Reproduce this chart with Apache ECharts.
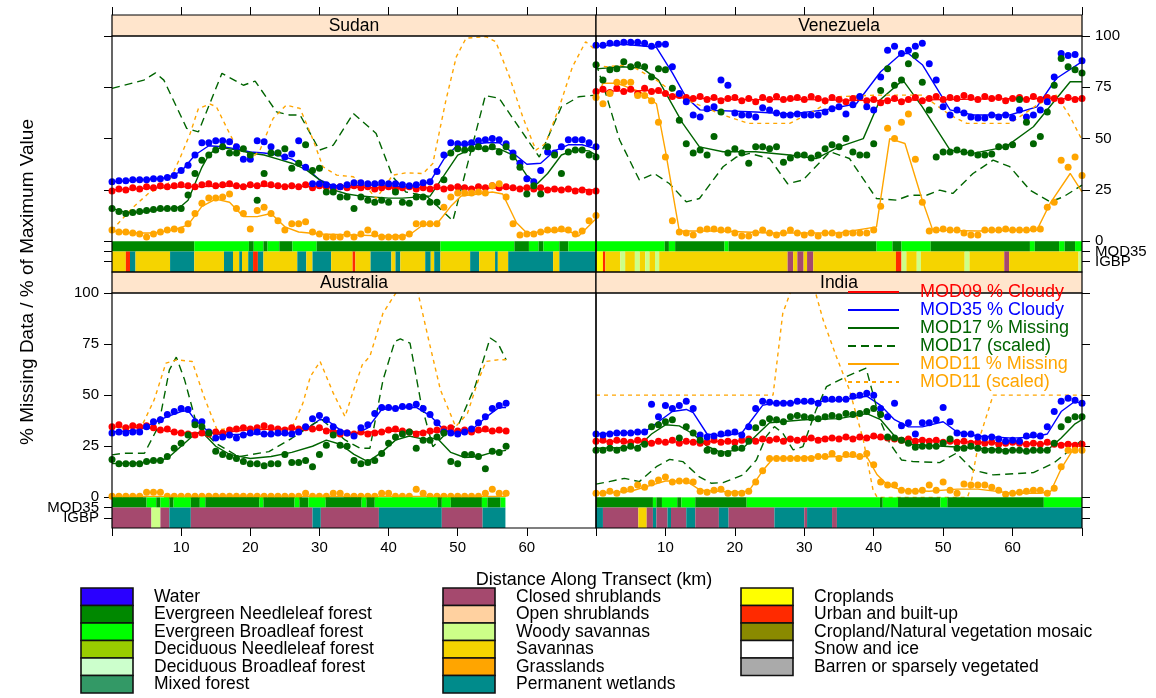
<!DOCTYPE html>
<html>
<head>
<meta charset="utf-8">
<script src="https://cdn.jsdelivr.net/npm/echarts@6/dist/echarts.min.js"></script>
<style>
  html, body { margin: 0; padding: 0; background: #fff; }
  #chart { width: 1156px; height: 698px; }
</style>
</head>
<body>
<div id="chart"></div>
<script>
// Панели и легенды
const panelNames = ['Sudan', 'Venezuela', 'Australia', 'India'];
const lineNames = ['MOD09 % Cloudy', 'MOD35 % Cloudy', 'MOD17 % Missing', 'MOD17 (scaled)', 'MOD11 % Missing', 'MOD11 (scaled)'];
const lineColors = ['#ff0000', '#0000ff', '#006400', '#006400', '#ffa500', '#ffa500'];
const yNumTicks = [0, 25, 50, 75, 100];
const yBandTicks = [[-5, 'MOD35'], [-10, 'IGBP']];
const xTickValues = [0, 10, 20, 30, 40, 50, 60, 70];
const xLabelValues = [10, 20, 30, 40, 50, 60];

const igbpNames = ['Water', 'Evergreen Needleleaf forest', 'Evergreen Broadleaf forest', 'Deciduous Needleleaf forest',
  'Deciduous Broadleaf forest', 'Mixed forest', 'Closed shrublands', 'Open shrublands', 'Woody savannas', 'Savannas',
  'Grasslands', 'Permanent wetlands', 'Croplands', 'Urban and built-up', 'Cropland/Natural vegetation mosaic',
  'Snow and ice', 'Barren or sparsely vegetated'];
const igbpColors = ['#2a00ff', '#008800', '#00ff00', '#99cc00', '#ccffcc', '#339966', '#a5496e', '#ffd1a0', '#ccff88',
  '#f5d400', '#ffa500', '#008b8b', '#ffff00', '#ff2a00', '#8a8a00', '#ffffff', '#aaaaaa'];

// Точки по километрам (0,1,2,...)
const sudanRed = [24.5,25.5,25,26,25.5,26.5,26,27,26.5,27,27.5,27,26.5,27.5,28,27,27.5,28,27,26.5,27.5,27,28,27.5,27,26.5,27,26.5,27.5,26,27,26.5,25.5,26.5,26,27,26,26.5,25.5,26,26.5,25.5,26,26.5,25.5,26,25.5,26.5,25.5,26,26.5,26,25.5,26.5,26,27,26,26.5,26,25.5,26,25.5,26,25,25.5,25,25.5,24.5,25,24,24.5];
const sudanBlue = [29,29.5,29.5,30,30,30,30.5,30.5,31,32,34.5,37,42,48,48,49,49,48.5,46,40,40,49,48.5,46,43,41,42.5,49,36,28,28,27.5,26.5,26.5,27.5,28.5,28.5,28,28,28.5,28,28,27.5,27,27.5,28.5,29,34,42,48,47.5,47.5,48,49,49.5,50,49.5,47.5,43,38,30.5,29,34.5,43.5,43,46,49.5,49.5,49.5,48,46];
const sudanGreen = [16,14.5,13.5,14,14.5,15,15.5,16,16,16,16,22.5,33,39.5,42,44.5,46,43,43,45,42,20,33,43,43,45,35.5,38,47,34.5,35.5,24,24,21.5,21.5,16,21.5,20,19,20,19,24,19,18.5,21.5,21.5,19,19,30,43,45,44.5,45,46,45,46,43.5,46,41,36,23,27,23,46,42,33,43.5,44.5,44.5,42,41];
const sudanOrange = [5.5,4.5,4.5,4,3.5,2,3.5,4.5,5.5,6,5.5,8.5,13.5,18.5,21,21,21.5,23,16,13.5,6,15,16.5,13.5,10,5.5,8.5,8.5,9.5,4.5,3.5,2,2,2,3.5,2,3.5,5.5,3.5,2,2,2,2,3.5,8.5,8.5,8.5,8.5,16.5,21.5,23.5,23.5,23.5,24,23.5,27,28,21.5,8.5,3,3.5,3.5,4.5,5.5,5.5,6,5.5,3.5,5,10,12.5];

const venRed = [73,74,72.5,74.5,73,74,72,74.5,73,73.5,72,70.5,71,70,69.5,70.5,69,70,68.5,69.5,70,68.5,69.5,68,70,69,70.5,69,69.5,70,69,70.5,69.5,68.5,70,69,68,69.5,70,68.5,69,67.5,68.5,69.5,68,69,70,68.5,69.5,70.5,69,70,69.5,71,70,69,70.5,69.5,70,68.5,69.5,70,69,70.5,69,70,69.5,68.5,70,69,69.5];
const venBlue = [95.5,95.5,96.5,96.5,97,97,97,96.5,95,96,96,85,72,68,61.5,60.5,64.5,65.5,78.5,76,62.5,61.5,61.5,60.5,65,64,62.5,61.5,61.5,62,61.5,61.5,61.5,63,64.5,65.5,62,66.5,70.5,65.5,64,80,93,95,91.5,93,95,96.5,86.5,78.5,65.5,61.5,64,62.5,60.5,60,60,61.5,60.5,61.5,60,64,60.5,61.5,64,68,80,91.5,90.5,91,88];
const venGreen = [86,78.5,83.5,84,87.5,85,86,85,80,84,83.5,74.5,59,47.5,43,44.5,42,51,63,43,45,43,38,46,46,45,46,38.5,40.5,42,42,40.5,42,45,47,46,50,43.5,42,42,47.5,73.5,84,76,78.5,86.5,90.5,77.5,64,41,43.5,43.5,44.5,43.5,43,42,42,42.5,46,46,47,69,58,47.5,51,63,76,89,85,83.5,82];
const venOrange = [70,67,72,77.5,77.5,77.5,71,71,68.5,58,41,10,4.5,4,3,5.5,6,6,5.5,5.5,4,2.5,2.5,4,5.5,4,3,4,5.5,4,3,4,2.5,4,4,3,4,4,4,4,5.5,17,55,50,58,62,40,19,5,5.5,6,5.5,5.5,4,3,3,5.5,5.5,5.5,6,5.5,5.5,5.5,6,6,16.5,19,39.5,36,41,32];

const ausRed = [34.5,35.5,34,35,34.5,35,34,33,33.5,32,31.5,31,30.5,31.5,31,32,31.5,33,33.5,34,33.5,34,35,34,33.5,33,34,33.5,34,33.5,34,32.5,32,31,31.5,31,32,31,31.5,32,33,33.5,32.5,32,31,31.5,32.5,33,33.5,34,32.5,33,32,33,33.5,32.5,33,32.5];
const ausBlue = [31.5,32,31.5,32,32,34.5,37,38,40.5,42,43.5,43,37,37,32,29,29.5,30.5,29,30.5,31.5,32,31,31,31.5,31.5,31,32,34.5,38.5,40,38,34.5,32,31.5,30,34,35.5,41,44,44,43.5,44.5,44.5,45.5,43.5,40.5,36.5,32,31.5,31,32,33.5,36.5,39.5,43.5,45,46];
const ausGreen = [18.5,16.5,16.5,16.5,16.5,17.5,18,18,20,24,26.5,30.5,35.5,34.5,31.5,22.5,21,20,19,17.5,16.5,16.5,15.5,16.5,16.5,21,17,17,18,15,21,25.5,30.5,25.5,25,18,16.5,17,18,21.5,26.5,29.5,31,32,24,28,28,29.5,31.5,17.5,16.5,21,21,20,14,22.5,22,25];
const ausOrange = [0.5,0.5,0.5,0.5,0.5,2.5,2.5,2.5,0.5,0.5,0.5,0.5,0.5,0.5,0.5,0.5,0.5,0.5,0.5,0.5,0.5,0.5,0.5,0.5,0.5,0.5,0.5,0.5,2,0.5,0.5,0.5,2,2,0.5,0.5,0.5,0.5,0.5,2,2,0.5,0.5,0.5,4,2,0.5,0.5,0.5,0.5,0.5,0.5,0.5,0.5,2,4,2,2];

const indRed = [27.5,28,27,28,27.5,27,28,27.5,26.5,27.5,27,28,26.5,27.5,27,26.5,27,28,27,27.5,27,28,28.5,27.5,28.5,28,28.5,27.5,28.5,28,28.5,29,28,28.5,29,28.5,29.5,28.5,29.5,29,30,29.5,29,28.5,28,28.5,27.5,28,27.5,28,27,27.5,27,27.5,26.5,27,26.5,27,26,26.5,27,26.5,26,26.5,26,27,26,25.5,26,25.5,26];
const indBlue = [31,30.5,31,31.5,31.5,31.5,32,32,45.5,39.5,45,43.5,45,47,43.5,30.5,29.5,30,31,31.5,32,30.5,34.5,43.5,47,46.5,46,46,46,47,47,47,46,48,48,48,48,49.5,50,51,50,43.5,39.5,46,35,36.5,31,36.5,36.5,38,44,37,31.5,31,31,29.5,29,29.5,28.5,27.5,28,27.5,30,30.5,30,34.5,42,47,48.5,47.5,46];
const indGreen = [23,23,24,23,24,25,24,26,34.5,35.5,37,38,29,34.5,31.5,28,23,22.5,21.5,21.5,24,24,27.5,34,36.5,38.5,38,37,39.5,40,39.5,39,38.5,39.5,40,39.5,41,40.5,41,42,43.5,40.5,29.5,29,28,26.5,24.5,25,25,25,26.5,28.5,24,24,25,24,23,23,23,22.5,23,23,22.5,23,23,23,26.5,34.5,38,39.5,39.5];
const indOrange = [2,2,3,2,3.5,4,6,5,7,8.5,10,7.5,8,8,7.5,3,2.5,3.5,4,2,2,2,3,7.5,13,19,19,19,19,19,19,19,20,20,21.5,19,21,21,20,21.5,16,7.5,6,6,3.5,3,3,3.5,6,3.5,7.5,3.5,2,6.5,6,6,6,5,3.5,1.5,2,2.5,3,3.5,3.5,2,4.5,15,23,23,23];

// Сглаженные линии [км, значение]
const sudanRedLine = [[0,25],[10,26.5],[20,27],[30,26.5],[40,26],[50,26],[60,25.8],[70,25]];
const sudanBlueLine = [[0,29],[5,30],[8,31],[10,34],[12,42],[14,46.5],[16,46],[18,45],[20,43.5],[22,43],[24,42],[26,40],[28,36],[30,30],[32,27],[34,27],[36,27],[38,27.5],[40,27],[42,26.5],[44,27],[46,29],[48,40],[50,47],[52,47],[54,48],[56,48],[58,43],[60,37.5],[62,38],[64,44],[66,47],[68,47],[70,45]];
const sudanGreenLine = [[0,16],[2,14],[4,14],[6,15],[9,16],[10,17],[11,20],[12,28],[13,36],[14,42],[15,45],[16,45.5],[18,44.5],[20,43],[22,42],[24,40],[26,38],[28,35],[30,30],[32,25],[34,23],[36,22],[38,21.5],[40,21],[42,21],[44,21.5],[46,22],[48,32],[50,42],[52,45],[54,45],[56,45],[58,42],[60,32],[61.5,28],[63,33],[65,42],[67,44.5],[69,44],[70,42]];
const sudanGreenDash = [[0,74.5],[4.6,78.5],[6.3,82],[7.5,78.5],[10.8,55],[12.5,53.3],[15.9,81.8],[19,76],[20.7,78],[23.8,63],[25.7,61.5],[27.2,61.5],[30,44.4],[32,46.8],[34.9,62.3],[38.2,52.5],[40.6,31.4],[42.5,24],[45.5,22],[49.3,10],[54,71],[56,69.6],[61.8,41],[65,65.5],[67.5,70.4],[70,71.2]];
const sudanOrangeLine = [[0,5],[3,4],[6,4],[9,5.5],[11,8],[13,17],[15,20.5],[17,19],[19,12],[21,12],[23,13.5],[25,7],[27,4.5],[30,3.5],[35,3],[40,2.5],[43,3],[45,8],[47,8.5],[49,17],[50.5,22],[53,23],[55,24],[56.5,23],[58.5,9],[60,4],[62,4.5],[64,5],[66,5],[67.5,2.5],[70,11]];
const sudanOrangeDash = [[0,5.4],[3.1,16.7],[5.5,24],[7.9,26.5],[9.9,41],[11.3,52.5],[12.5,64.7],[14.2,66.8],[15.1,65.5],[17,52.5],[18.5,42.8],[19.7,38.7],[21.4,44.4],[23.3,59.8],[25.2,66.3],[27.2,64.7],[29.1,49.3],[30.5,36.3],[32.5,32.2],[34.9,31.4],[36.8,26.5],[38.2,20.8],[40.6,32.2],[42.5,33.3],[45,33],[46.4,37.9],[48.3,68.8],[49.8,89.9],[51.2,98.9],[54.1,99.7],[55.5,97.2],[57.5,80],[59.4,60.6],[61.3,44.4],[62.7,47.6],[64.7,65.5],[66.6,85],[68.5,97.2],[70,93]];

const venRedLine = [[0,73],[8,73.5],[12,70],[20,69],[30,69],[40,68.5],[50,69],[60,69.5],[70,69.5]];
const venBlueLine = [[0,95],[4,96],[8.7,94.5],[11,82],[13,70],[15,64],[23,63],[28,62],[33,64],[37.5,67],[41,82.6],[44,91.5],[45,91.5],[47,86],[51,64],[54.3,61.5],[59.6,61.5],[63.5,65.5],[66.3,79.3],[70,87.5]];
const venGreenLine = [[0,84],[3.8,85],[6.7,84.2],[9,78.5],[12.5,57.4],[14.9,46],[18.3,43.6],[23,43.6],[27.9,42],[31.7,40.3],[35,46],[38.5,50],[40.9,68.8],[44.2,78.5],[47,65.5],[51,44.4],[54.3,42.8],[59,46],[63,55.8],[68.3,77.7],[70,77.7]];
const venGreenDash = [[0,86.7],[1.4,72],[3.4,49.3],[6.25,29.8],[8.4,33],[10.6,28],[13,19.2],[14.9,20.8],[18.3,36.3],[20.2,41],[22.1,42.8],[25,40.3],[27.6,28],[29.8,29.8],[33.7,43.6],[36.5,40.3],[40.4,20.8],[43.3,20],[45.2,22.4],[47.6,22.4],[49.5,24.9],[51.4,23.3],[54.3,33],[57.2,39.5],[59.6,36.3],[62.5,24.9],[65.4,19.2],[67.3,21.6],[70,27.3]];
const venOrangeLine = [[0,69],[1,77],[2.9,77],[6.25,73],[8.7,67],[10,44],[12,5],[18,5],[25,4],[30,4],[35,4],[40.4,7],[42.3,50],[44.5,47.6],[47,20],[48.5,5.4],[55,5],[63.5,5.4],[65.4,18.4],[68.3,33],[70,24]];
const venOrangeDash = [[0,86],[1.4,85],[4.8,86],[8.7,78.5],[12,70.4],[18.3,61.5],[22,57.4],[27.9,57.4],[31.7,64],[34.6,70.4],[40.4,71.2],[47,71.2],[51,61.5],[53.4,57.4],[59.6,57.4],[63.5,66.3],[66.3,71.2],[68.3,60.6],[70,49.3]];

const ausRedLine = [[0,34.5],[5,34],[10,31.5],[15,31.5],[20,33],[25,33.5],[30,33.5],[35,31.5],[40,32.5],[45,32],[50,32.5],[57,32.5]];
const ausBlueLine = [[0,32],[4,33],[6,36.5],[8,39.5],[10,42],[11,42.5],[12,38],[14,32],[16,30.5],[20,31],[25,31],[28,33],[30,38],[31,38],[33,33],[35,30.5],[37,34],[39,43],[42,44],[44,44],[46,40],[48,33],[50,31],[52,33],[54,39],[56,44],[57,44]];
const ausGreenLine = [[0,16.5],[5,17],[8,19],[10,25],[12,31],[13,32],[15,25],[17,21],[20,19],[23,20],[26,22],[29,25],[31,28],[33,26],[35,21],[37,17.5],[39,22],[41,28],[43,30],[45,28.5],[47,29],[49,22],[51,19.5],[53,20],[55,22],[57,23]];
const ausGreenDash = [[0,20.8],[1.7,21.6],[4.7,21.6],[6.7,34.6],[8.3,62.4],[9.3,68.6],[10.5,57.5],[12.2,36.3],[15,26.5],[18.3,19.9],[22.7,22.4],[26,28.9],[29.3,36.3],[30.4,37.9],[33.7,28.1],[35.9,24],[37.3,24],[39.2,57.5],[40.9,76.3],[41.7,77.5],[43.1,75.5],[44.7,46],[46.4,24.8],[48.6,32.2],[50.2,36.3],[52.5,54.2],[54.7,78],[55.8,75.5],[57,67.3]];
const ausOrangeLine = [[0,0.5],[10,0.5],[20,0.5],[30,0.5],[40,0.5],[50,0.5],[57,0.5]];
const ausOrangeDash = [[0,34.6],[2.3,33.8],[4.5,36.3],[6.1,47.7],[7.8,65.7],[9.4,67.3],[11.6,66.5],[13.3,49.3],[15.2,33],[17.2,33.8],[22.7,33.8],[26,33.8],[27.6,46],[28.7,59.2],[30.1,66.5],[32,51],[33.7,39.5],[34.8,51],[36.2,64.9],[37.3,69],[39.2,90.2],[40.9,99.2],[42.5,108],[44.2,101],[45.8,77],[47.5,52.6],[49.7,34.6],[51.4,41],[53,57.5],[54.1,66.5],[55.8,67.3],[57,67.3]];

const indRedLine = [[0,27.5],[10,27],[20,27.5],[30,28.5],[40,29.5],[50,27.5],[60,26.5],[70,26]];
const indBlueLine = [[0,31],[7,32],[9,37],[11,42],[13,43],[14,41.5],[16,31],[18,30],[21,31.5],[24,45],[26,46.5],[30,46.5],[35,47.5],[39,49.5],[41,45],[43,38],[45,34.5],[47,34.5],[50,37],[52,32],[55,30],[60,29],[63,29.5],[65,31],[67,42],[69,47],[70,46]];
const indGreenLine = [[0,24],[6,24.5],[8,31],[10,35.5],[12,35],[14,31],[16,25],[18,22],[21,23.5],[23,30],[25,36.5],[30,38],[35,38.5],[39,41],[41,38],[43,30],[45,26],[50,25],[55,24],[60,23],[65,23],[67,29],[69,36],[70,38]];
const indGreenDash = [[0,6.5],[1.9,7.7],[4.1,9.3],[6.25,7.7],[8.7,15],[10.6,18.6],[12.5,17.5],[14.9,10],[16.6,6.9],[18.3,7.2],[21.2,11],[23.1,18.3],[24.5,29.7],[25.7,34.6],[26.9,31.4],[28.4,23.2],[29.8,24.8],[31.7,42.8],[33.2,54.2],[36.1,59.2],[38.9,63.2],[40.9,37.9],[42.3,26.5],[44,18.3],[45.7,17.5],[49.5,17],[51.9,21.6],[54.3,13.4],[57.2,11],[63,12.1],[65.9,16.7],[68.3,23.2],[70,28.1]];
const indOrangeLine = [[0,2],[5,3],[8,6],[10,8],[13,8],[15,3.5],[20,2.5],[22,3],[24,13],[25.5,19],[30,19.5],[35,20],[39,20],[40.5,11],[42,6],[44,3.5],[48,3],[52,4],[55,4],[60,2],[64,2],[65.5,3],[67,14],[69,25],[70,25]];
const indOrangeDash = [[0,50],[25.5,50],[26.9,90],[28.4,104],[31.3,104],[32.7,87],[34.6,69],[36.5,52.6],[38.5,28.1],[39.9,3.6],[40.5,0],[53.5,0],[53.8,3],[55.3,29.7],[57.2,50],[70,50]];

// Полосы: [от км, до км, класс]
const sudanMod35 = [[0,11.9,1],[11.9,19.8,2],[19.8,20.5,1],[20.5,21.9,2],[21.9,22.5,1],[22.5,24.2,2],[24.2,26.1,1],[26.1,29.6,2],[29.6,47.5,1],[47.5,58.2,2],[58.2,60.3,1],[60.3,61.7,2],[61.7,62.4,1],[62.4,64.7,2],[64.7,66,1],[66,70,2]];
const sudanIgbp = [[0,2,9],[2,2.6,13],[2.6,3.4,11],[3.4,8.4,9],[8.4,11.9,11],[11.9,16.2,9],[16.2,17.5,11],[17.5,18.4,9],[18.4,18.8,11],[18.8,19.7,9],[19.7,20.4,11],[20.4,21.1,13],[21.1,21.9,11],[21.9,26.8,9],[26.8,28.1,11],[28.1,29,9],[29,31.7,11],[31.7,34.8,9],[34.8,35.2,13],[35.2,37.4,9],[37.4,40.4,11],[40.4,41,9],[41,41.7,11],[41.7,45.3,9],[45.3,46.1,11],[46.1,46.6,9],[46.6,47.5,11],[47.5,51.8,9],[51.8,53.1,11],[53.1,55.4,9],[55.4,55.8,11],[55.8,57.3,9],[57.3,63.8,11],[63.8,64.7,9],[64.7,70,11]];
const venMod35 = [[0,9.9,2],[9.9,10.5,1],[10.5,11.4,2],[11.4,18.5,1],[18.5,19.1,2],[19.1,40.4,1],[40.4,42.7,2],[42.7,44,1],[44,48.2,2],[48.2,62.5,1],[62.5,63.2,2],[63.2,66.7,1],[66.7,67.5,2],[67.5,69,1],[69,70,2]];
const venIgbp = [[0,1,12],[1,1.35,13],[1.35,3.5,9],[3.5,4.2,8],[4.2,5.6,9],[5.6,6.3,8],[6.3,7.1,9],[7.1,7.7,8],[7.7,8.5,9],[8.5,9.1,8],[9.1,27.6,9],[27.6,28.4,6],[28.4,29,9],[29,29.9,6],[29.9,30.4,9],[30.4,31.3,6],[31.3,43.2,9],[43.2,44,13],[44,44.7,8],[44.7,46.2,9],[46.2,46.8,8],[46.8,53.1,9],[53.1,53.8,8],[53.8,58.8,9],[58.8,59.5,6],[59.5,69.5,9],[69.5,70,8]];
const ausMod35 = [[0,5,1],[5,6.4,2],[6.4,7,1],[7,8.3,2],[8.3,8.9,1],[8.9,11.4,2],[11.4,12.7,1],[12.7,13.5,2],[13.5,21.3,1],[21.3,21.9,2],[21.9,26.4,1],[26.4,27.1,2],[27.1,28.4,1],[28.4,30.9,2],[30.9,36.1,1],[36.1,36.8,2],[36.8,38,1],[38,47.1,2],[47.1,47.7,1],[47.7,49,2],[49,53.5,1],[53.5,54.3,2],[54.3,56.2,1],[56.2,56.9,2]];
const ausIgbp = [[0,5.7,6],[5.7,7,8],[7,8.3,6],[8.3,11.4,11],[11.4,29,6],[29,30.2,11],[30.2,38.6,6],[38.6,47.7,11],[47.7,53.6,6],[53.6,56.9,11]];
const indMod35 = [[0,8.2,1],[8.2,8.7,2],[8.7,9.5,1],[9.5,11.7,2],[11.7,12.3,1],[12.3,14.3,2],[14.3,21.7,1],[21.7,40.9,2],[40.9,41.3,1],[41.3,43.5,2],[43.5,49.6,1],[49.6,50.6,2],[50.6,64.5,1],[64.5,70,2]];
const indIgbp = [[0,1,11],[1,6.1,6],[6.1,7.3,9],[7.3,8.2,6],[8.2,8.7,11],[8.7,10.3,6],[10.3,10.8,11],[10.8,13,6],[13,14.3,11],[14.3,17.7,6],[17.7,19.1,11],[19.1,25.7,6],[25.7,30,11],[30,30.4,6],[30.4,34,11],[34,34.7,6],[34.7,70,11]];

// Сборка по панелям
const panelPoints = [
  [sudanRed, sudanBlue, sudanGreen, sudanOrange],
  [venRed, venBlue, venGreen, venOrange],
  [ausRed, ausBlue, ausGreen, ausOrange],
  [indRed, indBlue, indGreen, indOrange]
];
const panelLines = [
  [sudanRedLine, sudanBlueLine, sudanGreenLine, sudanGreenDash, sudanOrangeLine, sudanOrangeDash],
  [venRedLine, venBlueLine, venGreenLine, venGreenDash, venOrangeLine, venOrangeDash],
  [ausRedLine, ausBlueLine, ausGreenLine, ausGreenDash, ausOrangeLine, ausOrangeDash],
  [indRedLine, indBlueLine, indGreenLine, indGreenDash, indOrangeLine, indOrangeDash]
];
const panelBands = [
  [sudanMod35, sudanIgbp], [venMod35, venIgbp], [ausMod35, ausIgbp], [indMod35, indIgbp]
];

const font = 'Liberation Sans, Arial, Helvetica, sans-serif';
const pointColors = ['#ff0000', '#0000ff', '#006400', '#ffa500'];
const pointNames = ['MOD09 points', 'MOD35 points', 'MOD17 points', 'MOD11 points'];
const dashTypes = [null, null, null, [8, 5], null, [4, 4]];

const grids = [
  { left: 112, top: 36, width: 484, height: 236 },
  { left: 596, top: 36, width: 486, height: 236 },
  { left: 112, top: 293, width: 484, height: 235 },
  { left: 596, top: 293, width: 486, height: 235 }
];
const stripH = 21;
const tickStyle = { color: '#000', width: 1 };

const xAxes = grids.map((g, i) => {
  const top = i < 2;
  return {
    gridIndex: i, type: 'value', min: 0, max: 70,
    position: top ? 'top' : 'bottom',
    offset: top ? stripH : 0,
    axisLine: { show: false, onZero: false },
    splitLine: { show: false },
    axisTick: { show: true, length: 8, customValues: xTickValues, lineStyle: tickStyle },
    axisLabel: {
      show: !top, customValues: xLabelValues,
      color: '#000', fontSize: 15, fontFamily: font, margin: 12
    }
  };
});

// по одной оси на группу меток, чтобы подписи не скрывали друг друга
const yAxes = [];
const yIndex = [];
grids.forEach((g, i) => {
  const left = i % 2 === 0;
  const showLabels = i === 1 || i === 2;
  const base = {
    gridIndex: i, type: 'value', min: -15, max: 100,
    position: left ? 'left' : 'right',
    axisLine: { show: false, onZero: false },
    splitLine: { show: false }
  };
  yIndex.push(yAxes.length);
  yAxes.push({
    ...base,
    axisTick: { show: true, length: 8, customValues: yNumTicks, lineStyle: tickStyle },
    axisLabel: { show: showLabels, customValues: yNumTicks, color: '#000', fontSize: 15, fontFamily: font, margin: 13 }
  });
  yBandTicks.forEach(([v, label]) => {
    yAxes.push({
      ...base,
      axisTick: { show: true, length: 8, customValues: [v], lineStyle: tickStyle },
      axisLabel: {
        show: showLabels, customValues: [v], color: '#000', fontSize: 15, fontFamily: font, margin: 13,
        formatter: () => label
      }
    });
  });
});

function bandRenderer(yTop, yBot) {
  return function (params, api) {
    const p0 = api.coord([api.value(0), yTop]);
    const p1 = api.coord([api.value(1), yBot]);
    return {
      type: 'rect',
      shape: { x: p0[0], y: p0[1], width: p1[0] - p0[0], height: p1[1] - p0[1] },
      style: { fill: igbpColors[api.value(2)], stroke: null }
    };
  };
}

const series = [];
panelNames.forEach((name, i) => {
  const yi = yIndex[i];
  // линии
  panelLines[i].forEach((data, j) => {
    series.push({
      name: lineNames[j], type: 'line', xAxisIndex: i, yAxisIndex: yi,
      data: data, symbol: 'none', showSymbol: false, z: 3,
      lineStyle: { color: lineColors[j], width: 1.4, type: dashTypes[j] || 'solid' },
      itemStyle: { color: lineColors[j], opacity: 0 }
    });
  });
  // точки
  panelPoints[i].forEach((vals, j) => {
    series.push({
      name: pointNames[j], type: 'scatter',
      xAxisIndex: i, yAxisIndex: yi, symbolSize: 7, z: 3,
      data: vals.map((v, k) => [k, v]),
      itemStyle: { color: pointColors[j], opacity: 1 }
    });
  });
  // полосы MOD35 и IGBP
  series.push({
    type: 'custom', xAxisIndex: i, yAxisIndex: yi, z: 6,
    renderItem: bandRenderer(0, -5), encode: { x: [0, 1] }, data: panelBands[i][0]
  });
  series.push({
    type: 'custom', xAxisIndex: i, yAxisIndex: yi, z: 6,
    renderItem: bandRenderer(-5, -15), encode: { x: [0, 1] }, data: panelBands[i][1]
  });
});

// Заголовки панелей, рамки, подписи осей, легенда IGBP
const graphic = [];
grids.forEach((g, i) => {
  graphic.push({
    type: 'rect', z: 20,
    shape: { x: g.left, y: g.top - stripH, width: g.width, height: stripH },
    style: { fill: '#ffe5cc', stroke: '#000', lineWidth: 1.2 }
  });
  graphic.push({
    type: 'text', z: 21, x: g.left + g.width / 2, y: g.top - stripH / 2 + 1,
    style: { text: panelNames[i], font: '17.5px ' + font, fill: '#000', align: 'center', verticalAlign: 'middle' }
  });
  graphic.push({
    type: 'rect', z: 30, silent: true,
    shape: { x: g.left, y: g.top, width: g.width, height: g.height },
    style: { fill: 'none', stroke: '#000', lineWidth: 1.2 }
  });
});
graphic.push({
  type: 'text', z: 20, x: 28, y: 282, rotation: Math.PI / 2,
  style: { text: '% Missing Data / % of Maximum Value', font: '19px ' + font, fill: '#000', align: 'center', verticalAlign: 'middle' }
});
graphic.push({
  type: 'text', z: 20, x: 594, y: 580,
  style: { text: 'Distance Along Transect (km)', font: '18px ' + font, fill: '#000', align: 'center', verticalAlign: 'middle' }
});
const legendCols = [81, 443, 741];
igbpNames.forEach((n, k) => {
  const col = Math.floor(k / 6), row = k % 6;
  const x = legendCols[col], y = 588 + row * 17.5;
  graphic.push({
    type: 'rect', z: 20,
    shape: { x: x, y: y, width: 52, height: 17.5 },
    style: { fill: igbpColors[k], stroke: '#111', lineWidth: 1.6 }
  });
  graphic.push({
    type: 'text', z: 20, x: x + 73, y: y + 9,
    style: { text: n, font: '17.5px ' + font, fill: '#000', align: 'left', verticalAlign: 'middle' }
  });
});

const chart = echarts.init(document.getElementById('chart'), null, { renderer: 'canvas' });
chart.setOption({
  animation: false,
  backgroundColor: '#fff',
  textStyle: { fontFamily: font },
  grid: grids.map(g => ({ ...g, show: false, containLabel: false })),
  xAxis: xAxes,
  yAxis: yAxes,
  legend: {
    z: 40, left: 842, top: 278, orient: 'vertical',
    itemWidth: 51, itemHeight: 10, itemGap: 0, selectedMode: false,
    itemStyle: { opacity: 0 },
    data: lineNames.map((n, j) => ({ name: n, textStyle: { color: lineColors[j] } })),
    textStyle: { fontSize: 18, fontFamily: font, lineHeight: 17.7, padding: [0, 0, 0, 16] }
  },
  graphic: graphic,
  series: series
});
</script>
</body>
</html>
